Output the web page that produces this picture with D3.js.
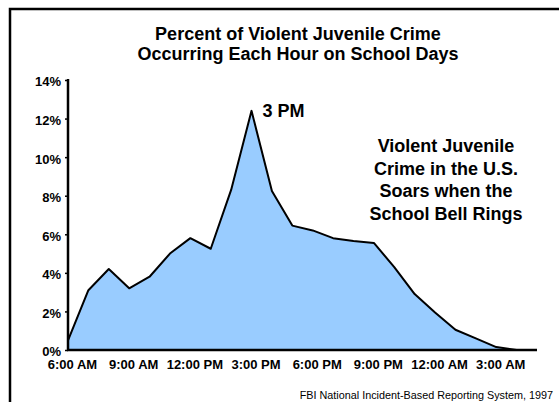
<!DOCTYPE html>
<html>
<head>
<meta charset="utf-8">
<script src="https://cdn.jsdelivr.net/npm/d3@7"></script>
<style>
  body { margin: 0; background: #fff; }
  svg { display: block; font-family: "Liberation Sans", Arial, sans-serif; }
</style>
</head>
<body>
<div id="chart"></div>
<script>
// hourly categories, 6 AM through 5 AM
const hours = ['6AM','7AM','8AM','9AM','10AM','11AM','12PM','1PM','2PM','3PM','4PM','5PM',
               '6PM','7PM','8PM','9PM','10PM','11PM','12AM','1AM','2AM','3AM','4AM','5AM'];
// percent of violent juvenile crime in each hour (school days)
const percent = [0.5, 3.1, 4.2, 3.2, 3.8, 5.0, 5.8, 5.25, 8.3, 12.4, 8.25, 6.45,
                 6.2, 5.8, 5.65, 5.55, 4.3, 2.9, 1.95, 1.05, 0.6, 0.15, 0, 0];
// labelled every three hours
const tickHours = ['6AM','9AM','12PM','3PM','6PM','9PM','12AM','3AM'];
const tickLabels = ['6:00 AM','9:00 AM','12:00 PM','3:00 PM','6:00 PM','9:00 PM','12:00 AM','3:00 AM'];
const yTicks = [0, 2, 4, 6, 8, 10, 12, 14];

const titleLines = ['Percent of Violent Juvenile Crime', 'Occurring Each Hour on School Days'];
const noteLines = ['Violent Juvenile', 'Crime in the U.S.', 'Soars when the', 'School Bell Rings'];
const peakLabel = '3 PM';
const source = 'FBI National Incident-Based Reporting System, 1997';

const width = 559, height = 402;

const svg = d3.select('#chart').append('svg')
  .attr('width', width)
  .attr('height', height);

// frame lines (top and left)
svg.append('path')
  .attr('d', `M10,${height} V9 H${width}`)
  .attr('fill', 'none')
  .attr('stroke', '#000')
  .attr('stroke-width', 2.5);

const x = d3.scalePoint().domain(hours).range([68, 537]);
const y = d3.scaleLinear().domain([0, 14]).range([350, 80]);

const data = hours.map((h, i) => ({ h, v: percent[i] }));

// filled area
const area = d3.area()
  .x(d => x(d.h))
  .y0(y(0))
  .y1(d => y(d.v));

svg.append('path')
  .datum(data)
  .attr('d', area)
  .attr('fill', '#99ccff');

const line = d3.line()
  .x(d => x(d.h))
  .y(d => y(d.v));

svg.append('path')
  .datum(data)
  .attr('d', line)
  .attr('fill', 'none')
  .attr('stroke', '#000')
  .attr('stroke-width', 2)
  .attr('stroke-linejoin', 'round');

// y axis
const yAxis = svg.append('g')
  .attr('transform', 'translate(68,0)')
  .call(d3.axisLeft(y).tickValues(yTicks).tickFormat(d => d + '%').tickSize(3).tickPadding(4));
yAxis.select('.domain').attr('stroke-width', 2.5).attr('d', `M0,${y(14) - 1}V${y(0)}`);
yAxis.selectAll('.tick line').attr('stroke-width', 1.5);
yAxis.selectAll('text')
  .attr('dy', '0.45em')
  .attr('font-size', 13)
  .attr('font-weight', 'bold')
  .attr('font-family', '"Liberation Sans", Arial, sans-serif')
  .attr('fill', '#000');

// x axis
const xAxis = svg.append('g')
  .attr('transform', `translate(0,${y(0)})`)
  .call(d3.axisBottom(x).tickValues(tickHours)
    .tickFormat((d, i) => tickLabels[i]).tickSize(0).tickPadding(10));
xAxis.select('.domain').attr('stroke-width', 2.5).attr('d', `M${x(hours[0]) - 1},0H${x(hours[hours.length - 1])}`);
xAxis.selectAll('text')
  .attr('dx', 4)
  .attr('font-size', 13)
  .attr('font-weight', 'bold')
  .attr('font-family', '"Liberation Sans", Arial, sans-serif')
  .attr('fill', '#000');

// title
svg.append('text')
  .attr('text-anchor', 'middle')
  .attr('font-size', 18)
  .attr('font-weight', 'bold')
  .selectAll('tspan')
  .data(titleLines)
  .join('tspan')
  .attr('x', 298)
  .attr('y', (d, i) => 40 + i * 20)
  .text(d => d);

// peak label
svg.append('text')
  .attr('x', x('3PM') + 11)
  .attr('y', 117)
  .attr('font-size', 18)
  .attr('font-weight', 'bold')
  .text(peakLabel);

// side note
svg.append('text')
  .attr('text-anchor', 'middle')
  .attr('font-size', 18)
  .attr('font-weight', 'bold')
  .selectAll('tspan')
  .data(noteLines)
  .join('tspan')
  .attr('x', 446)
  .attr('y', (d, i) => 152 + i * 22.5)
  .text(d => d);

// source
svg.append('text')
  .attr('x', 553)
  .attr('y', 399)
  .attr('text-anchor', 'end')
  .attr('font-size', 10.8)
  .text(source);
</script>
</body>
</html>
